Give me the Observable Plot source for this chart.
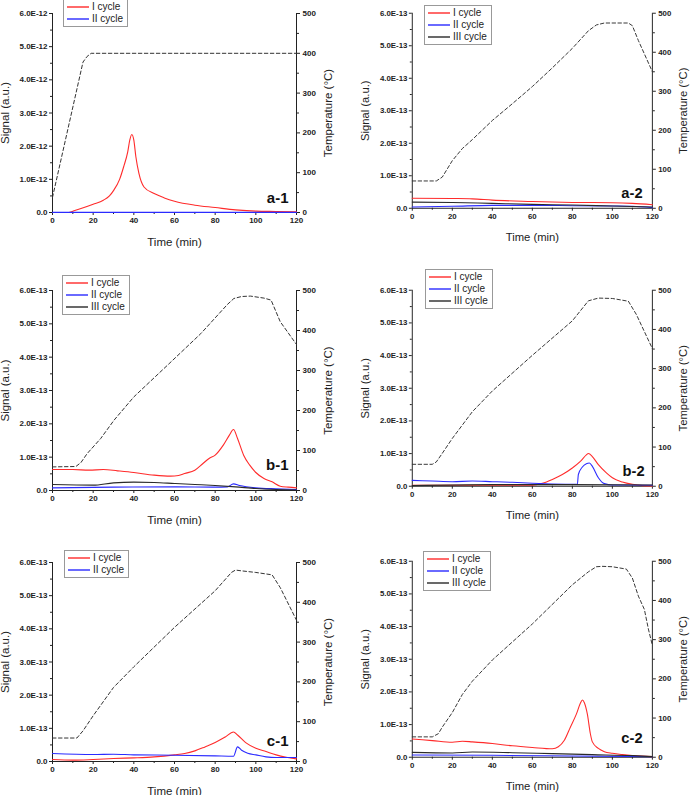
<!DOCTYPE html>
<html><head><meta charset="utf-8">
<script src="https://cdn.jsdelivr.net/npm/d3@7"></script>
<script src="https://cdn.jsdelivr.net/npm/@observablehq/plot@0.6"></script>
<style>
body{margin:0;background:#fff;}
#chart{position:relative;width:696px;height:795px;overflow:hidden;background:#fff;font-family:"Liberation Sans",Arial,sans-serif;}
.panel{position:absolute;}
g[aria-label$="tick label"]{font:bold 8px "Liberation Sans",Arial,sans-serif;fill:#222}
g[aria-label$="axis label"]{font:11.5px "Liberation Sans",Arial,sans-serif;fill:#222}
.legend{position:absolute;border:1px solid #999;background:#fff;padding:1px 4px 1px 3px;font-size:10px;line-height:12px;color:#222}
.legend .row{display:flex;align-items:center;height:12px;white-space:nowrap}
.legend .sw{flex:0 0 22px;height:2px;margin-right:3px;opacity:.7}
</style>
</head><body>
<div id="chart"></div>
<script>
// ---------- data (time in min; signal in units of the panel's unit; temperature in °C) ----------
const cycles = ["I cycle", "II cycle", "III cycle"];
const xTicks = [0, 20, 40, 60, 80, 100, 120];
const tempTicks = [0, 100, 200, 300, 400, 500];

// a-1 (unit 1e-12)
const a1_temp = [[0,38],[15,378],[17,392],[19,400],[120,400]];
const a1_I = [[0,0],[8,0],[10,0.04],[14,0.12],[20,0.25],[25,0.37],[28,0.5],[30,0.66],[33,1.0],[35,1.38],[37,1.83],[38,2.18],[39,2.35],[40,2.18],[41,1.68],[42.5,1.18],[45,0.77],[50,0.57],[55,0.44],[60,0.34],[70,0.22],[80,0.15],[90,0.08],[100,0.04],[110,0.03],[120,0.02]];
const a1_II = [[0,0.005],[120,0.005]];

// a-2 (unit 1e-13)
const a2_temp = [[0,70],[12,70],[15,80],[20,122],[25,153],[30,176],[40,225],[50,268],[60,312],[70,360],[80,410],[88,455],[92,470],[96,475],[108,475],[110,468],[113,430],[120,350]];
const a2_I = [[0,0.31],[20,0.30],[30,0.29],[40,0.25],[60,0.21],[80,0.18],[100,0.17],[110,0.15],[120,0.11]];
const a2_II = [[0,0.04],[20,0.06],[40,0.09],[60,0.09],[80,0.08],[100,0.07],[110,0.06],[120,0.02]];
const a2_III = [[0,0.19],[20,0.18],[40,0.15],[60,0.12],[80,0.10],[100,0.07],[120,0.04]];

// b-1 (unit 1e-13)
const b1_temp = [[0,59],[11.5,60],[14,70],[17,92],[23.7,130],[30.3,176],[40,234],[56.5,313],[72.9,392],[86,465],[89.2,480],[93,485],[97.4,486],[104,481],[107.5,476],[112,422],[120,365]];
const b1_I = [[0,0.63],[10,0.63],[18,0.61],[25,0.63],[32,0.59],[40,0.54],[50,0.46],[58,0.43],[62,0.45],[65,0.51],[70,0.61],[74,0.81],[77,0.96],[80,1.06],[84,1.36],[87,1.66],[89,1.83],[91,1.56],[94,1.06],[97,0.76],[100,0.54],[104,0.36],[108,0.26],[112,0.13],[116,0.10],[120,0.08]];
const b1_II = [[0,0.08],[30,0.10],[60,0.11],[80,0.10],[86,0.11],[89,0.20],[92,0.15],[100,0.08],[110,0.05],[120,0.03]];
const b1_III = [[0,0.18],[20,0.16],[30,0.23],[40,0.25],[50,0.24],[60,0.21],[70,0.18],[80,0.15],[90,0.11],[100,0.06],[110,0.03],[120,0.01]];

// b-2 (unit 1e-13)
const b2_temp = [[0,56],[10,56],[12,62],[15,84],[20,122],[30,190],[40,243],[60,334],[80,422],[88,473],[93,480],[100,479],[108,472],[112,438],[120,351]];
const b2_I = [[0,0.03],[60,0.03],[65,0.09],[70,0.21],[75,0.36],[80,0.56],[84,0.76],[87,0.96],[88,1.0],[90,0.91],[93,0.66],[97,0.41],[100,0.26],[105,0.13],[110,0.06],[115,0.02],[120,0.01]];
const b2_II = [[0,0.18],[10,0.16],[20,0.14],[30,0.16],[40,0.14],[50,0.12],[60,0.09],[70,0.07],[82.5,0.06],[83,0.36],[85,0.59],[87,0.69],[88.5,0.71],[90,0.61],[93,0.26],[96,0.08],[100,0.04],[120,0.03]];
const b2_III = [[0,0.02],[40,0.05],[80,0.05],[120,0.04]];

// c-1 (unit 1e-13)
const c1_temp = [[0,59],[12,59],[15,77],[20,115],[30,186],[40,238],[60,337],[80,429],[88,475],[90,481],[93,479],[100,475],[108,469],[112,437],[120,355]];
const c1_I = [[0,0.06],[10,0.04],[20,0.06],[30,0.09],[40,0.11],[50,0.14],[60,0.20],[65,0.24],[70,0.32],[75,0.44],[80,0.57],[85,0.74],[89,0.89],[91,0.80],[95,0.57],[100,0.40],[105,0.30],[110,0.20],[115,0.13],[120,0.08]];
const c1_II = [[0,0.24],[20,0.21],[30,0.22],[40,0.20],[60,0.19],[80,0.17],[89,0.16],[91,0.44],[93,0.34],[96,0.25],[100,0.20],[105,0.14],[110,0.12],[120,0.12]];

// c-2 (unit 1e-13)
const c2_temp = [[0,52],[10,52],[13,60],[15,77],[20,114],[25,160],[30,194],[40,248],[60,340],[80,440],[88,473],[92,486],[95,487],[100,486],[107,480],[110,457],[113,411],[116,377],[118,327],[120,285]];
const c2_I = [[0,0.56],[10,0.51],[20,0.46],[25,0.49],[30,0.47],[40,0.42],[50,0.35],[60,0.30],[70,0.26],[73,0.32],[76,0.52],[79,0.92],[82,1.32],[84,1.65],[85,1.75],[86,1.67],[87.5,1.32],[89,0.72],[90,0.47],[93,0.27],[96,0.17],[100,0.12],[105,0.08],[110,0.05],[120,0.02]];
const c2_II = [[0,0.07],[40,0.06],[80,0.04],[120,0.02]];
const c2_III = [[0,0.15],[20,0.13],[30,0.16],[50,0.14],[70,0.11],[90,0.08],[110,0.05],[120,0.02]];

// ---------- layout ----------
const COLORS = ["#ff2b2b", "#2b2bff", "#2a2a2a"];
const panels = [
  {id:"a-1", unit:1e-12, temp:a1_temp, series:[a1_I,a1_II], box:[52,296,13,212], legend:[63,-1], tag:[8,10]},
  {id:"a-2", unit:1e-13, temp:a2_temp, series:[a2_I,a2_II,a2_III], box:[413,658,13,212], legend:[424,5], tag:[10,10]},
  {id:"b-1", unit:1e-13, temp:b1_temp, series:[b1_I,b1_II,b1_III], box:[52,296,290,490], legend:[62,275], tag:[8,21]},
  {id:"b-2", unit:1e-13, temp:b2_temp, series:[b2_I,b2_II,b2_III], box:[413,658,290,490], legend:[425,269], tag:[8,10]},
  {id:"c-1", unit:1e-13, temp:c1_temp, series:[c1_I,c1_II], box:[52,296,562,761], legend:[64,550], tag:[8,16]},
  {id:"c-2", unit:1e-13, temp:c2_temp, series:[c2_I,c2_II,c2_III], box:[413,658,561,761], legend:[423,551], tag:[10,15]}
];

const ML = 60, MR = 45, MT = 12, MB = 45;
const chart = document.getElementById("chart");
const fmtSig = d => Math.abs(d) < 1e-20 ? "0.0" : d.toExponential(1).toUpperCase();

for (const p of panels) {
  const [x0, x1, y0, y1] = p.box;
  const w = x1 - x0, h = y1 - y0;
  const ymax = 6 * p.unit;
  const k = ymax / 500;
  const rows = [];
  p.series.forEach((pts, i) => pts.forEach(([t, v]) => rows.push({name: cycles[i], t, v: v * p.unit})));
  const temp = p.temp.map(([t, c]) => ({t, c}));
  const yTicks = d3.range(0, 7).map(i => i * p.unit);
  const yMinor = d3.range(0, 6).map(i => (i + 0.5) * p.unit);
  const xMinor = xTicks.slice(0, -1).map(d => d + 10);
  const tMinor = tempTicks.slice(0, -1).map(d => (d + 50) * k);

  const svg = Plot.plot({
    width: w + ML + MR, height: h + MT + MB,
    marginLeft: ML, marginRight: MR, marginTop: MT, marginBottom: MB,
    style: {background: "transparent", overflow: "visible"},
    x: {domain: [0, 120]},
    y: {domain: [0, ymax]},
    color: {domain: cycles, range: COLORS},
    marks: [
      Plot.axisX(xTicks, {tickSize: 3, tickPadding: 2, tickFormat: d => d, stroke: "#222", label: "Time (min)", labelAnchor: "center", labelArrow: "none", labelOffset: 33}),
      Plot.axisX(xMinor, {tickSize: 2, tickFormat: () => "", stroke: "#222", label: null}),
      Plot.axisY(yTicks, {anchor: "left", tickSize: 3, tickPadding: 2, tickFormat: fmtSig, stroke: "#222", label: "Signal (a.u.)", labelAnchor: "center", labelArrow: "none", labelOffset: 52}),
      Plot.axisY(yMinor, {anchor: "left", tickSize: 2, tickFormat: () => "", stroke: "#222", label: null}),
      Plot.axisY(tempTicks.map(c => c * k), {anchor: "right", tickSize: 3, tickPadding: 3, tickFormat: d => Math.round(d / k), stroke: "#222", label: "Temperature (°C)", labelAnchor: "center", labelArrow: "none", labelOffset: 35}),
      Plot.axisY(tMinor, {anchor: "right", tickSize: 2, tickFormat: () => "", stroke: "#222", label: null}),
      Plot.ruleX([0, 120], {stroke: "#222", strokeWidth: 1}),
      Plot.ruleY([0], {stroke: "#222", strokeWidth: 1}),
      Plot.line(temp, {x: "t", y: d => d.c * k, stroke: "#333", strokeWidth: 1, strokeDasharray: "3.5,2.5"}),
      Plot.line(rows, {x: "t", y: "v", z: "name", stroke: "name", strokeWidth: 1.1, curve: "monotone-x"}),
      Plot.text([p.id], {text: d => d, frameAnchor: "bottom-right", dx: -p.tag[0], dy: -p.tag[1], textAnchor: "end", lineAnchor: "bottom", fontSize: 15, fontWeight: "bold", fill: "#111", fontFamily: "Liberation Sans, Arial, sans-serif"})
    ]
  });
  const wrap = document.createElement("div");
  wrap.className = "panel";
  wrap.style.left = (x0 - ML) + "px";
  wrap.style.top = (y0 - MT) + "px";
  wrap.appendChild(svg);
  chart.appendChild(wrap);

  // legend
  const [lx, ly] = p.legend;
  const lg = document.createElement("div");
  lg.className = "legend";
  lg.style.left = lx + "px";
  lg.style.top = ly + "px";
  p.series.forEach((_, i) => {
    const r = document.createElement("div");
    r.className = "row";
    const sw = document.createElement("span");
    sw.className = "sw";
    sw.style.background = COLORS[i];
    const tx = document.createElement("span");
    tx.textContent = cycles[i];
    r.appendChild(sw); r.appendChild(tx);
    lg.appendChild(r);
  });
  chart.appendChild(lg);
}
</script>
</body></html>
